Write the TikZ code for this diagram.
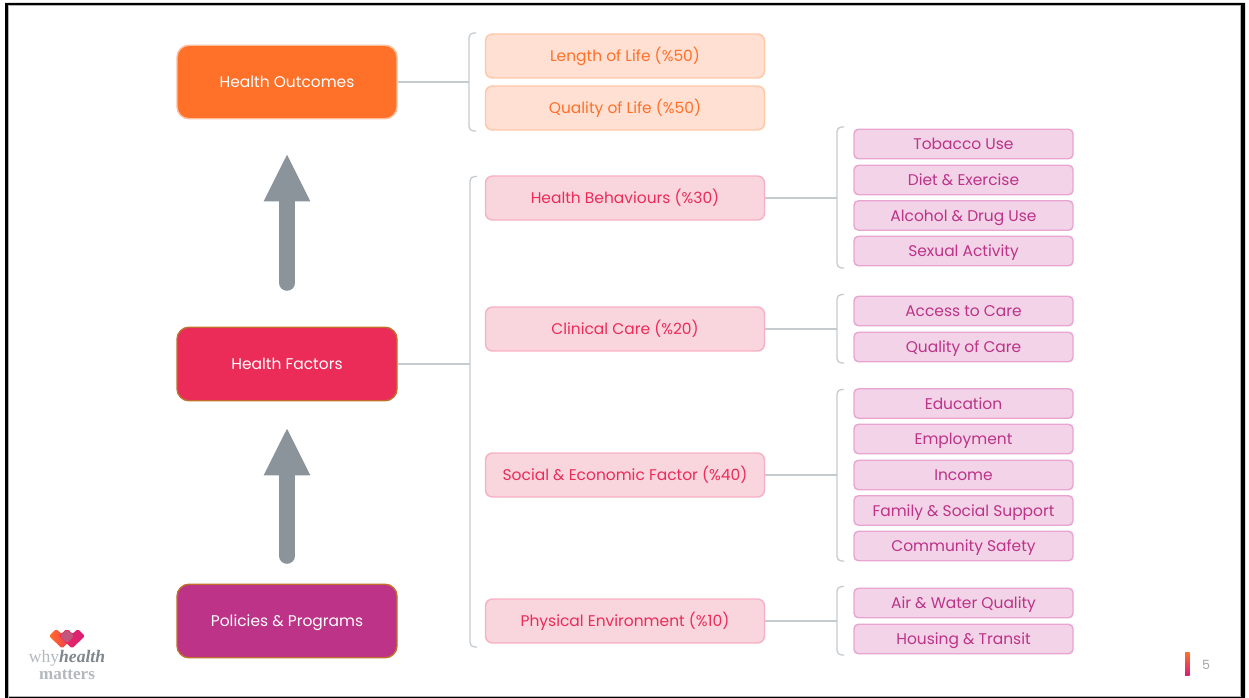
\documentclass[tikz,border=0pt]{standalone}
\usepackage{fontspec}
\setmainfont{Poppins}
\newfontfamily\logofont{Liberation Serif}
\usetikzlibrary{arrows.meta}
\definecolor{orangeC}{HTML}{FF7029}
\definecolor{redC}{HTML}{EB2C58}
\definecolor{magC}{HTML}{BC3387}
\definecolor{lineC}{HTML}{C6CBCF}
\definecolor{arrowC}{HTML}{8C949B}
\definecolor{orangeFill}{HTML}{FFE0D2}
\definecolor{orangeLine}{HTML}{FFC7A8}
\definecolor{pinkFill}{HTML}{F9D5DE}
\definecolor{pinkLine}{HTML}{F8B0C4}
\definecolor{magFill}{HTML}{F2D3E8}
\definecolor{magLine}{HTML}{E9A5D0}
\definecolor{bigLine}{HTML}{C0702A}
\definecolor{logoGrey}{HTML}{B4B9BE}
\definecolor{logoDark}{HTML}{7F878E}
\definecolor{logoMid}{HTML}{C2567F}
\definecolor{logoEnd}{HTML}{D81E78}
\def\u{0.75pt}
\tikzset{
  x=0.75pt,y=-0.75pt,
  boxtext/.style={font=\fontsize{11.6pt}{13pt}\selectfont,text height=10.5pt,text depth=1.9pt},
  bigbox/.style={boxtext,rounded corners=12*\u,minimum width=220*\u,minimum height=73.5*\u,inner sep=0pt,line width=1.4*\u,text=white},
  midbox/.style={boxtext,rounded corners=7*\u,minimum width=279*\u,minimum height=44*\u,inner sep=0pt,line width=1.4*\u},
  orangebox/.style={midbox,draw=orangeLine,fill=orangeFill,text=orangeC},
  pinkbox/.style={midbox,draw=pinkLine,fill=pinkFill,text=redC},
  smallbox/.style={boxtext,rounded corners=4.5*\u,minimum width=219*\u,minimum height=29.5*\u,inner sep=0pt,line width=1.4*\u,draw=magLine,fill=magFill,text=magC},
  link/.style={draw=lineC,line width=1.3*\u},
  brace/.style={link,rounded corners=4.5*\u},
  uparrow/.style={draw=arrowC,line width=15.5*\u,line cap=round,-{Triangle[width=43*\u,length=48*\u]}},
}
\begin{document}
\begin{tikzpicture}
\useasboundingbox (0,0) rectangle (1249,698);
\fill[white] (0,0) rectangle (1249,698);
\fill[black,even odd rule] (5,3) rectangle (1245,698) (8,5.5) rectangle (1241,696.5);
\draw[gray!60,line width=0.6*\u] (8.3,698) -- (8.3,5.8) -- (1240.7,5.8) -- (1240.7,696.2) -- (8.3,696.2);

% main boxes
\node[bigbox,draw=orangeC!45!white,fill=orangeC] (outcomes) at (287,82) {Health Outcomes};
\node[bigbox,draw=bigLine,fill=redC] (factors) at (287,364) {Health Factors};
\node[bigbox,draw=bigLine,fill=magC] (policies) at (287,621) {Policies \& Programs};

% arrows
\draw[uparrow,shorten >=34*\u,shorten <=43.5*\u] (factors.north) -- (outcomes.south);
\draw[uparrow,shorten >=26*\u,shorten <=27.5*\u] (policies.north) -- (factors.south);

% second level
\node[orangebox] (length) at (625,56) {Length of Life (\%50)};
\node[orangebox] (quality) at (625,108) {Quality of Life (\%50)};
\node[pinkbox] (behaviours) at (625,198) {Health Behaviours (\%30)};
\node[pinkbox] (clinical) at (625,329) {Clinical Care (\%20)};
\node[pinkbox] (social) at (625,475) {Social \& Economic Factor (\%40)};
\node[pinkbox] (physical) at (625,621) {Physical Environment (\%10)};

% third level
\node[smallbox] (tobacco) at (963.5,144) {Tobacco Use};
\node[smallbox] (diet) at (963.5,180) {Diet \& Exercise};
\node[smallbox] (alcohol) at (963.5,215.5) {Alcohol \& Drug Use};
\node[smallbox] (sexual) at (963.5,251) {Sexual Activity};
\node[smallbox] (access) at (963.5,311) {Access to Care};
\node[smallbox] (qcare) at (963.5,347) {Quality of Care};
\node[smallbox] (education) at (963.5,403.5) {Education};
\node[smallbox] (employment) at (963.5,439) {Employment};
\node[smallbox] (income) at (963.5,475) {Income};
\node[smallbox] (family) at (963.5,510.5) {Family \& Social Support};
\node[smallbox] (community) at (963.5,546) {Community Safety};
\node[smallbox] (air) at (963.5,603) {Air \& Water Quality};
\node[smallbox] (housing) at (963.5,639) {Housing \& Transit};

% brackets and connectors
\coordinate (bA) at (469,82);
\coordinate (bB) at (470,364);
\coordinate (bC) at (837,198);
\coordinate (bD) at (837,329);
\coordinate (bE) at (837,475);
\coordinate (bF) at (837,621);
\draw[brace] (476,33) -- (469,33) -- (469,131) -- (476,131);
\draw[brace] (477,176.5) -- (470,176.5) -- (470,647) -- (477,647);
\draw[brace] (844,127) -- (837,127) -- (837,268) -- (844,268);
\draw[brace] (844,294.5) -- (837,294.5) -- (837,363) -- (844,363);
\draw[brace] (844,389.5) -- (837,389.5) -- (837,561) -- (844,561);
\draw[brace] (844,586.5) -- (837,586.5) -- (837,655) -- (844,655);
\draw[link] (outcomes.east) -- (bA);
\draw[link] (factors.east) -- (bB);
\draw[link] (behaviours.east) -- (bC);
\draw[link] (clinical.east) -- (bD);
\draw[link] (social.east) -- (bE);
\draw[link] (physical.east) -- (bF);

% logo
\shade[left color=orangeC,right color=redC,rounded corners=1.5*\u] (56,629) -- (49,636) -- (62,648.5) -- (75,636) -- (67.5,629) -- (62,634) -- cycle;
\shade[left color=redC,right color=logoEnd,rounded corners=1.5*\u] (78,629) -- (85,636) -- (72,648.5) -- (59,636) -- (66.5,629) -- (72,634) -- cycle;
\fill[logoMid,rounded corners=1.5*\u] (67,629.5) -- (60,636) -- (67,643) -- (74,636) -- cycle;
\node[inner sep=0pt,text=logoGrey,font=\logofont\fontsize{13.2pt}{13pt}\selectfont] (logoA) at (67,658.5) {why\textcolor{logoDark}{\textbf{\textit{health}}}};
\node[inner sep=0pt,text=logoGrey,font=\logofont\bfseries\fontsize{12.8pt}{13pt}\selectfont] (logoB) at (67,674.5) {matters};

% page number
\shade[top color=orangeC,bottom color=logoEnd] (1185,652) rectangle (1189.5,675);
\node[inner sep=0pt,text=gray!70,font=\fontsize{9.5pt}{11pt}\selectfont] (page) at (1206,665) {5};
\end{tikzpicture}
\end{document}
